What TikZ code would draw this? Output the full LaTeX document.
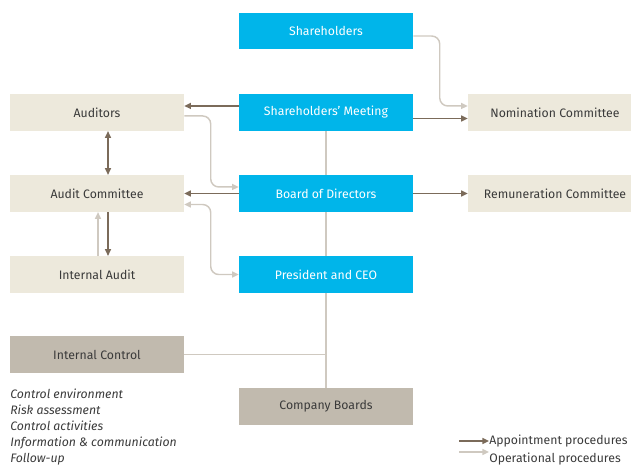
\documentclass[tikz,border=0pt]{standalone}
\usepackage{fontspec}
\setmainfont{Fira Sans}
\usetikzlibrary{arrows.meta}
\definecolor{govblue}{HTML}{00B5EA}
\definecolor{govbeige}{HTML}{EDE9DC}
\definecolor{govgrey}{HTML}{C1BAAE}
\definecolor{govbrown}{HTML}{7B6B5A}
\definecolor{govline}{HTML}{CFC9C0}
\definecolor{govtext}{HTML}{3A3A3A}

\begin{document}
\begin{tikzpicture}[x=0.75pt,y=-0.75pt,
    box/.style={minimum width=130.5pt,minimum height=27.5pt,inner sep=0pt,font=\fontsize{9.2}{11}\selectfont},
    bluebox/.style={box,fill=govblue,text=white},
    beigebox/.style={box,fill=govbeige,text=govtext},
    greybox/.style={box,fill=govgrey,text=govtext},
    appoint/.style={draw=govbrown,line width=1.1pt,-{Triangle[length=5pt,width=4.5pt]}},
    operate/.style={draw=govline,line width=1.1pt,rounded corners=6pt,-{Triangle[length=5pt,width=4.5pt]}}]
    \useasboundingbox (0,0) rectangle (631,464);
    \node[bluebox] (sh) at (326,31) {Shareholders};
    \node[bluebox] (sm) at (326,112.5) {Shareholders’ Meeting};
    \node[bluebox] (bod) at (326,193.5) {Board of Directors};
    \node[bluebox] (ceo) at (326,274.5) {President and CEO};
    \node[greybox] (cb) at (326,406.5) {Company Boards};
    \node[beigebox] (aud) at (97,112.5) {Auditors};
    \node[beigebox] (ac) at (97,193.5) {Audit Committee};
    \node[beigebox] (ia) at (97,274.5) {Internal Audit};
    \node[greybox] (ic) at (97,354.5) {Internal Control};
    \node[beigebox] (nom) at (555,112.5) {Nomination Committee};
    \node[beigebox] (rem) at (555,193.5) {Remuneration Committee};
    \node[anchor=north west,inner sep=0pt,align=left,text=govtext,
        font=\fontsize{9.2}{12}\selectfont\itshape] (icl) at (10,389)
        {Control environment\\Risk assessment\\Control activities\\Information \& communication\\Follow-up};
    \node[anchor=west,inner sep=0pt,text=govtext,font=\fontsize{9.2}{11}\selectfont] (lapp) at (489,441) {Appointment procedures};
    \node[anchor=west,inner sep=0pt,text=govtext,font=\fontsize{9.2}{11}\selectfont] (lop) at (489,459) {Operational procedures};
    \coordinate (lappstart) at (459,441);
    \coordinate (lopstart) at (459,452);
    \coordinate (icjoin) at (326,354.5);

    \draw[govline,line width=1.1pt] (sm.south) -- (bod.north);
    \draw[govline,line width=1.1pt] (bod.south) -- (ceo.north);
    \draw[govline,line width=1.1pt] (ceo.south) -- (cb.north);
    \draw[govline,line width=1.1pt] (ic.east) -- (icjoin);

    \draw[appoint] ([yshift=4.9pt]sm.west) -- ([yshift=4.9pt]aud.east);
    \draw[appoint] ([yshift=-4.5pt]sm.east) -- ([yshift=-4.5pt]nom.west);
    \draw[appoint] (bod.west) -- (ac.east);
    \draw[appoint] (bod.east) -- (rem.west);
    \draw[appoint,{Triangle[length=5pt,width=4.5pt]}-{Triangle[length=5pt,width=4.5pt]}] ([xshift=8.25pt]aud.south) -- ([xshift=8.25pt]ac.north);
    \draw[appoint] ([xshift=8.25pt]ac.south) -- ([xshift=8.25pt]ia.north);

    \draw[operate] ([xshift=0.75pt]ia.north) -- ([xshift=0.75pt]ac.south);
    \draw[operate] ([yshift=-3.75pt]sh.east) -| ([xshift=-21pt,yshift=4.9pt]nom.west) -- ([yshift=4.9pt]nom.west);
    \draw[operate] ([yshift=-2.6pt]aud.east) -| ([xshift=-21pt,yshift=4.9pt]bod.west) -- ([yshift=4.9pt]bod.west);
    \draw[operate,{Triangle[length=5pt,width=4.5pt]}-{Triangle[length=5pt,width=4.5pt]}] ([yshift=-8.25pt]ac.east) -| ([xshift=-21pt]ceo.west) -- (ceo.west);

    \draw[appoint] (lappstart) -- (lapp.west);
    \draw[operate] (lopstart) -- (lop.west |- lopstart);
\end{tikzpicture}
\end{document}
